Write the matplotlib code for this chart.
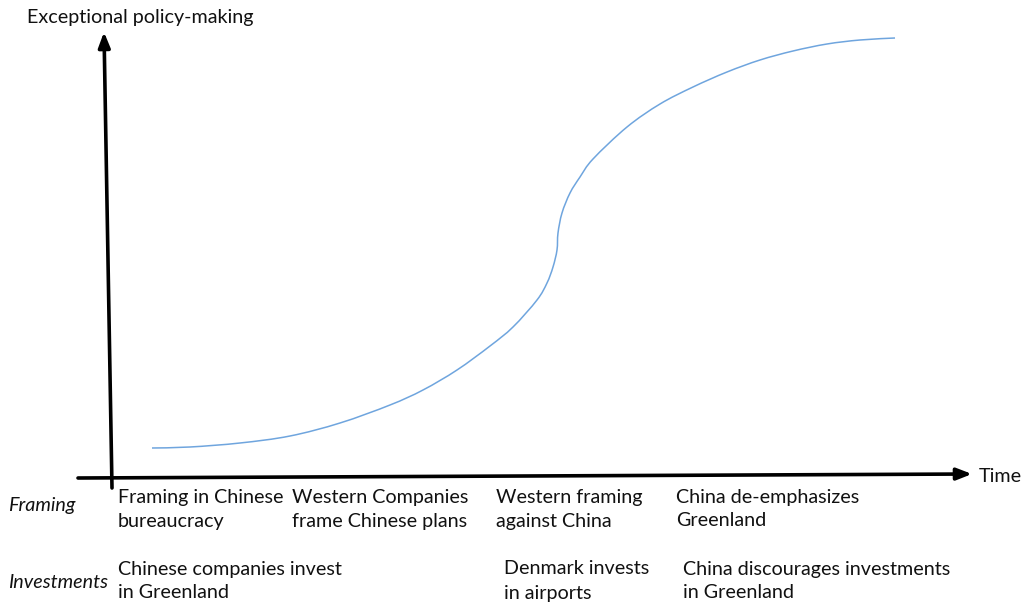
import matplotlib
matplotlib.use("Agg")
import matplotlib.pyplot as plt
from matplotlib.path import Path
from matplotlib.patches import PathPatch

# Curve samples (x = time position, y = exceptional policy-making level; pixel-like canvas units)
curve_x = [152, 190, 240, 290, 340, 390, 423, 457, 490, 513, 537, 547, 553, 557, 558, 562, 570, 580,
           593, 627, 660, 693, 727, 760, 793, 827, 860, 895]
curve_y = [448, 447, 443, 436, 423, 405, 390, 370, 346, 327, 300, 283, 267, 250, 233, 213, 193, 177,
           159, 127, 104, 87, 72, 60, 51, 44, 40, 38]

y_axis_label = "Exceptional policy-making"
x_axis_label = "Time"
row_labels = ["Framing", "Investments"]
framing_labels = ["Framing in Chinese\nbureaucracy", "Western Companies\nframe Chinese plans",
                  "Western framing\nagainst China", "China de-emphasizes\nGreenland"]
framing_x = [118, 292, 496, 676]
investment_labels = ["Chinese companies invest\nin Greenland", "Denmark invests\nin airports",
                     "China discourages investments\nin Greenland"]
investment_x = [118, 504, 683]

W, H = 1031, 603
fig = plt.figure(figsize=(W / 100, H / 100), dpi=100)
ax = fig.add_axes([0, 0, 1, 1])
ax.set_xlim(0, W)
ax.set_ylim(H, 0)
ax.axis("off")

FONT = "Lato"
FS = 14.2
TXT = "#111111"

# Axes arrows
arrow_kw = dict(arrowstyle="-|>,head_length=0.9,head_width=0.35", color="black", lw=2.6, shrinkA=0, shrinkB=0)
ax.annotate("", xy=(104, 32), xytext=(112, 488), arrowprops=arrow_kw)
ax.annotate("", xy=(972, 474), xytext=(78, 478), arrowprops=arrow_kw)

# S-curve drawn as a smooth Bezier path through the sample points (Catmull-Rom tangents)
pts = list(zip(curve_x, curve_y))
verts = [pts[0]]
codes = [Path.MOVETO]
n = len(pts)
for i in range(n - 1):
    p0 = pts[i - 1] if i > 0 else pts[i]
    p1 = pts[i]
    p2 = pts[i + 1]
    p3 = pts[i + 2] if i + 2 < n else pts[i + 1]
    c1 = (p1[0] + (p2[0] - p0[0]) / 6.0, p1[1] + (p2[1] - p0[1]) / 6.0)
    c2 = (p2[0] - (p3[0] - p1[0]) / 6.0, p2[1] - (p3[1] - p1[1]) / 6.0)
    verts += [c1, c2, p2]
    codes += [Path.CURVE4, Path.CURVE4, Path.CURVE4]
ax.add_patch(PathPatch(Path(verts, codes), facecolor="none", edgecolor="#6fa5de", lw=1.1))

# Labels
ax.text(27, 18, y_axis_label, fontsize=FS, family=FONT, va="center", ha="left", color=TXT)
ax.text(979, 477, x_axis_label, fontsize=FS, family=FONT, va="center", ha="left", color=TXT)
ax.text(8, 506, row_labels[0], fontsize=FS, family=FONT, style="italic", va="center", ha="left", color=TXT)
ax.text(8, 582, row_labels[1], fontsize=FS, family=FONT, style="italic", va="center", ha="left", color=TXT)

for x, s in zip(framing_x, framing_labels):
    ax.text(x, 509, s, fontsize=FS, family=FONT, va="center", ha="left", linespacing=1.5, color=TXT)
for x, s in zip(investment_x, investment_labels):
    ax.text(x, 581, s, fontsize=FS, family=FONT, va="center", ha="left", linespacing=1.5, color=TXT)

fig.savefig("out.png", dpi=100, facecolor="white")
